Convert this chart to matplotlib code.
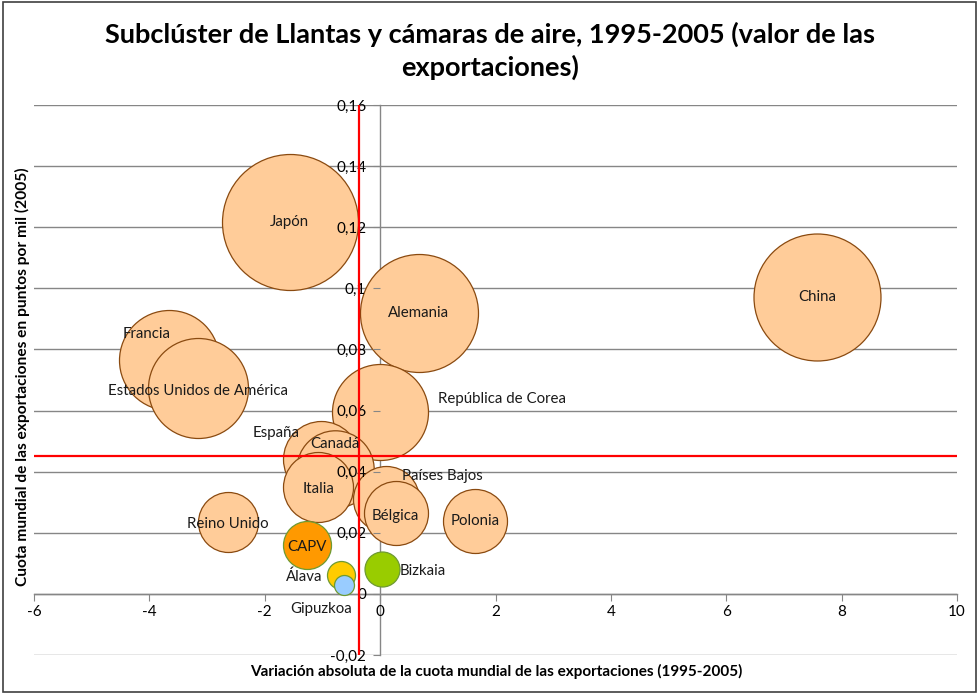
import numpy as np
import matplotlib
matplotlib.use("Agg")
import matplotlib.pyplot as plt
from matplotlib.ticker import FuncFormatter, MultipleLocator
from matplotlib.patches import Rectangle

# data: change in world export share (x), share in 2005 (y), export value (bubble size)
countries = ["Japón", "China", "Alemania", "Francia", "Estados Unidos de América",
             "República de Corea", "España", "Canadá", "Italia", "Países Bajos",
             "Bélgica", "Polonia", "Reino Unido", "CAPV", "Bizkaia", "Álava", "Gipuzkoa"]
variacion = [-1.57, 7.58, 0.67, -3.66, -3.15, 0.0, -1.03, -0.78, -1.07, 0.10,
             0.27, 1.65, -2.64, -1.27, 0.03, -0.68, -0.63]
cuota = [0.1218, 0.0972, 0.0920, 0.0766, 0.0674, 0.0595, 0.0442, 0.0409, 0.0350, 0.0310,
         0.0265, 0.0239, 0.0236, 0.0160, 0.0080, 0.0062, 0.0030]
valor = [4624, 4032, 3481, 2500, 2500, 2304, 1444, 1498, 1225, 1089,
         1024, 1024, 900, 576, 306, 196, 100]

media_x = -0.37
media_y = 0.0452

title = "Subclúster de Llantas y cámaras de aire, 1995-2005 (valor de las\nexportaciones)"
xlabel = "Variación absoluta de la cuota mundial de las exportaciones (1995-2005)"
ylabel = "Cuota mundial de las exportaciones en puntos por mil (2005)"

# styles
base_fill = "#FFCC99"
base_edge = "#8A4A10"
green_edge = "#6E9A32"
fills = {"CAPV": "#FF9900", "Bizkaia": "#99CC00", "Álava": "#FFCC00", "Gipuzkoa": "#99CCFF"}

# label offsets in pixels (dx, dy) and horizontal alignment
label_pos = {
    "Francia": (-22, 26, "center"),
    "Estados Unidos de América": (0, -3, "center"),
    "República de Corea": (58, 13, "left"),
    "España": (-45, 26, "center"),
    "Canadá": (0, 25, "center"),
    "Italia": (0, -2, "center"),
    "Países Bajos": (16, 23, "left"),
    "Bélgica": (0, -3, "center"),
    "Reino Unido": (0, -2, "center"),
    "CAPV": (0, -2, "center"),
    "Álava": (-18, -2, "right"),
    "Gipuzkoa": (-23, -24, "center"),
    "Bizkaia": (18, -2, "left"),
}

plt.rcParams["font.family"] = ["Lato", "DejaVu Sans"]

W, H, DPI = 979, 694, 100
fig = plt.figure(figsize=(W / DPI, H / DPI), dpi=DPI)
ax = fig.add_axes([34 / W, 1 - 655 / H, (957 - 34) / W, (655 - 105) / H])

ax.set_xlim(-6, 10)
ax.set_ylim(-0.02, 0.16)

# gridlines drawn by hand so tick labels can sit above the bubbles
for gy in np.arange(-0.02, 0.161, 0.02):
    ax.axhline(gy, color="#868686", lw=1, zorder=0)

# bubble area proportional to value, largest radius ~68 px
max_r = 68
vmax = max(valor)
for name, x, y, v in zip(countries, variacion, cuota, valor):
    r_px = max_r * np.sqrt(v / vmax)
    d_pt = 2 * r_px * 72 / DPI
    fc = fills.get(name, base_fill)
    ec = green_edge if name in fills else base_edge
    ax.scatter([x], [y], s=d_pt ** 2, facecolor=fc, edgecolor=ec, linewidth=0.9, zorder=3)
    dx, dy, ha = label_pos.get(name, (0, 0, "center"))
    ax.annotate(name, (x, y), xytext=(dx, dy), textcoords="offset pixels",
                ha=ha, va="center", fontsize=10.8, color="#1a1a1a", zorder=6)

# mean lines
ax.axvline(media_x, color="#FF0000", lw=1.6, zorder=5)
ax.axhline(media_y, color="#FF0000", lw=1.6, zorder=5)

# axes crossing at zero
for s in ["top", "right"]:
    ax.spines[s].set_visible(False)
ax.spines["left"].set_position(("data", 0))
ax.spines["bottom"].set_position(("data", 0))
for s in ["left", "bottom"]:
    ax.spines[s].set_color("#868686")
    ax.spines[s].set_linewidth(1)
    ax.spines[s].set_zorder(1)

ax.xaxis.set_major_locator(MultipleLocator(2))
ax.yaxis.set_major_locator(MultipleLocator(0.02))
ax.yaxis.set_major_formatter(FuncFormatter(lambda v, p: f"{round(v, 4):g}".replace(".", ",")))
ax.xaxis.set_major_formatter(FuncFormatter(lambda v, p: f"{round(v, 4):g}"))
ax.tick_params(axis="both", colors="#868686", labelcolor="black", labelsize=11, length=5, direction="out")
ax.tick_params(axis="y", pad=5)
ax.tick_params(axis="x", pad=3)
ax.xaxis.set_zorder(4)
ax.yaxis.set_zorder(4)

fig.text(496 / W, 1 - 671 / H, xlabel, ha="center", va="center", fontsize=11, fontweight="bold")
fig.text(22 / W, 1 - 377 / H, ylabel, ha="center", va="center", rotation=90, fontsize=11.2, fontweight="bold")
fig.text(490 / W, 1 - 51 / H, title, ha="center", va="center", fontsize=19.5, fontweight="bold",
         linespacing=1.38)

fig.patches.append(Rectangle((3 / W, 2 / H), 973 / W, 690 / H, transform=fig.transFigure,
                             fill=False, edgecolor="#404040", lw=1.2))

fig.savefig("out.png", dpi=DPI)
